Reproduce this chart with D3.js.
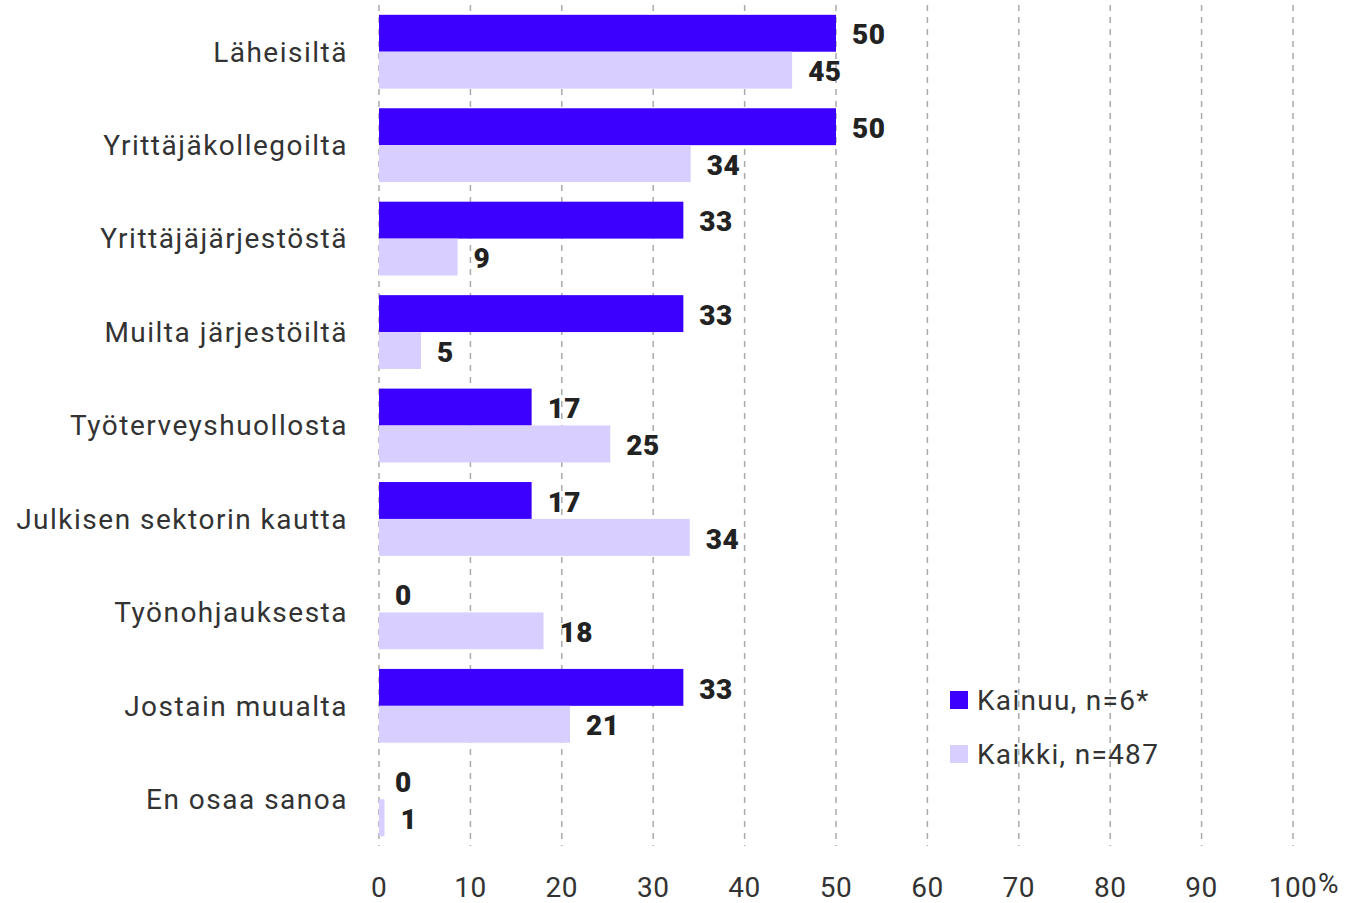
<!DOCTYPE html>
<html>
<head>
<meta charset="utf-8">
<script src="https://cdn.jsdelivr.net/npm/d3@7"></script>
<style>
  body { margin: 0; background: #fff; }
  text { font-family: Roboto, "Noto Sans", sans-serif; }
  .grid line { stroke: #aaa; stroke-width: 1.5; stroke-dasharray: 6,6; }
  .cat { fill: #333; font-size: 28px; letter-spacing: 1.5px; }
  .tick-label { fill: #333; font-size: 28px; letter-spacing: 0.5px; }
  .val { fill: #222; font-size: 28px; font-weight: 900; letter-spacing: 0.5px; }
  .legend text { fill: #333; font-size: 28px; letter-spacing: 1.3px; }
</style>
</head>
<body>
<div id="chart"></div>
<script>
var categories = [
  'Läheisiltä',
  'Yrittäjäkollegoilta',
  'Yrittäjäjärjestöstä',
  'Muilta järjestöiltä',
  'Työterveyshuollosta',
  'Julkisen sektorin kautta',
  'Työnohjauksesta',
  'Jostain muualta',
  'En osaa sanoa'
];
var kainuu = [50, 50, 33.3, 33.3, 16.7, 16.7, 0, 33.3, 0];
var kaikki = [45.2, 34.1, 8.6, 4.6, 25.3, 34, 18, 20.9, 0.6];
var seriesNames = ['Kainuu, n=6*', 'Kaikki, n=487'];
var colors = ['#3b00ff', '#d8ceff'];
var ticks = [0, 10, 20, 30, 40, 50, 60, 70, 80, 90, 100];

var width = 1348;
var height = 903;
var margin = {top: 5, right: 55, bottom: 57, left: 379};

var x = d3.scaleLinear().domain([0, 100]).range([margin.left, 1293]);
var y = d3.scaleBand().domain(categories)
  .range([margin.top, height - margin.bottom])
  .paddingInner(0.21).paddingOuter(0.105);
var ySub = d3.scaleBand().domain([0, 1]).range([0, y.bandwidth()]);
var fmt = d3.format('.0f');

var svg = d3.select('#chart').append('svg')
  .attr('width', width)
  .attr('height', height);

// dashed vertical grid
svg.append('g').attr('class', 'grid')
  .selectAll('line').data(ticks).enter()
  .append('line')
  .attr('x1', function(d) { return x(d); })
  .attr('x2', function(d) { return x(d); })
  .attr('y1', margin.top)
  .attr('y2', height - margin.bottom);

// x axis labels
svg.append('g').selectAll('text').data(ticks).enter()
  .append('text')
  .attr('class', 'tick-label')
  .attr('x', function(d) { return x(d); })
  .attr('y', 897)
  .attr('text-anchor', 'middle')
  .text(function(d) { return d; });

svg.append('text')
  .attr('class', 'tick-label')
  .attr('x', 1318)
  .attr('y', 893)
  .text('%');

// category labels
svg.append('g').selectAll('text').data(categories).enter()
  .append('text')
  .attr('class', 'cat')
  .attr('x', 348)
  .attr('y', function(d) { return y(d) + y.bandwidth() / 2; })
  .attr('dy', '0.35em')
  .attr('text-anchor', 'end')
  .text(function(d) { return d; });

var series = [kainuu, kaikki];
series.forEach(function(vals, s) {
  var g = svg.append('g');
  g.selectAll('rect').data(vals).enter()
    .append('rect')
    .attr('x', x(0))
    .attr('y', function(d, i) { return y(categories[i]) + ySub(s); })
    .attr('width', function(d) { return x(d) - x(0); })
    .attr('height', ySub.bandwidth())
    .attr('fill', colors[s]);

  g.selectAll('text').data(vals).enter()
    .append('text')
    .attr('class', 'val')
    .attr('x', function(d) { return x(d) + 16; })
    .attr('y', function(d, i) { return y(categories[i]) + ySub(s) + ySub.bandwidth() / 2; })
    .attr('dy', '0.4em')
    .text(function(d) { return fmt(d); });
});

// legend
var legend = svg.append('g').attr('class', 'legend')
  .attr('transform', 'translate(950,691)');
seriesNames.forEach(function(name, i) {
  var item = legend.append('g').attr('transform', 'translate(0,' + (i * 54) + ')');
  item.append('rect')
    .attr('width', 18).attr('height', 18)
    .attr('fill', colors[i]);
  item.append('text')
    .attr('x', 27).attr('y', 9)
    .attr('dy', '0.35em')
    .text(name);
});
</script>
</body>
</html>
